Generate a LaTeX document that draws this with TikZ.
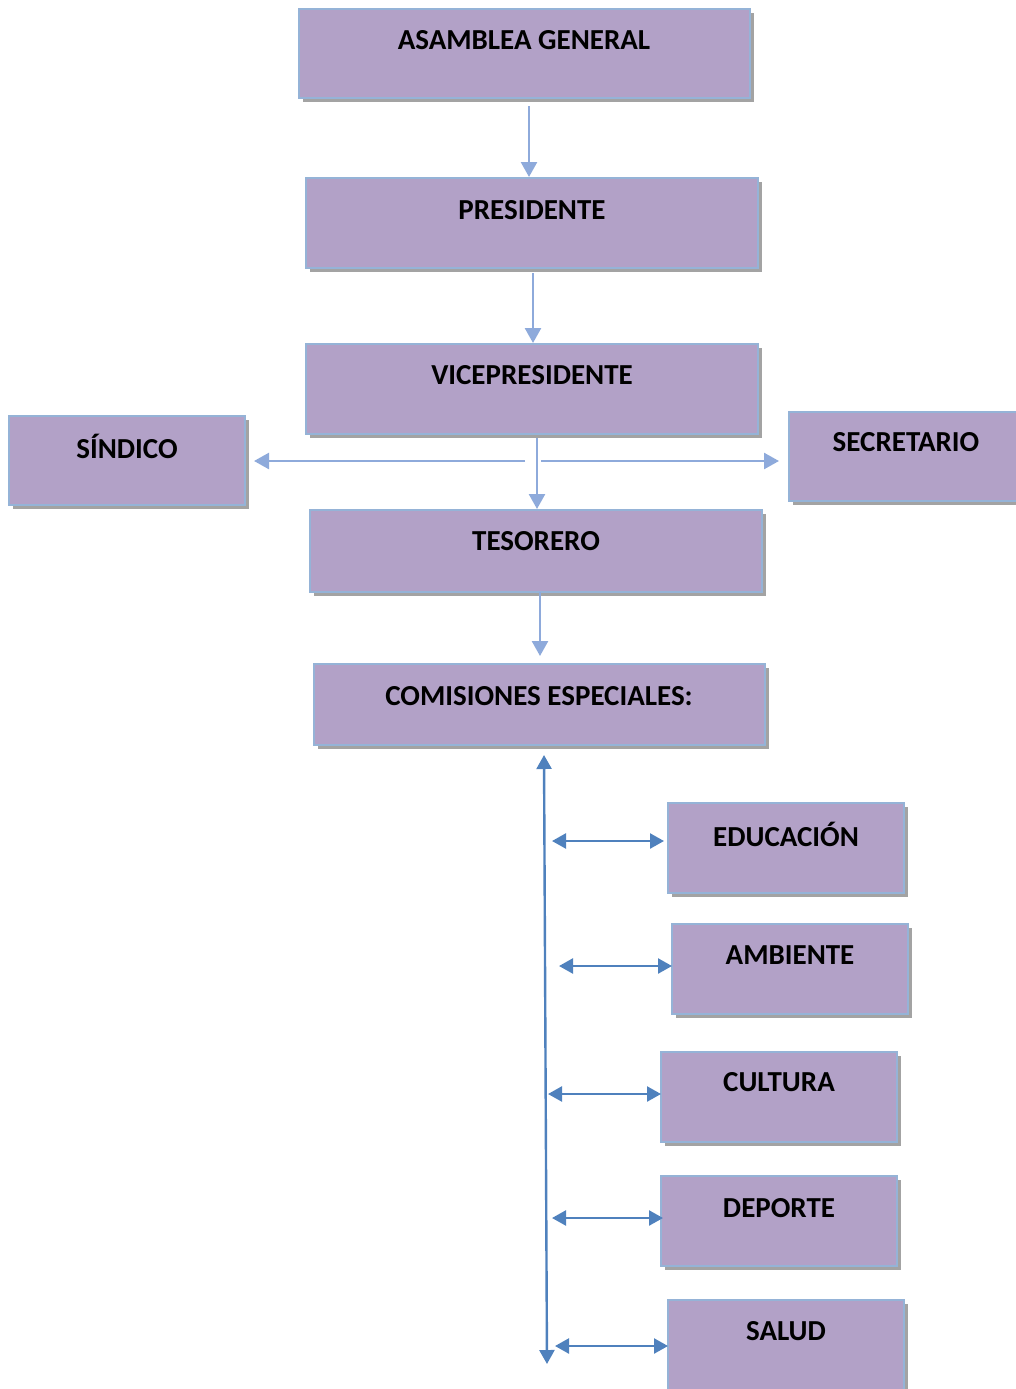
\documentclass[tikz,border=0pt]{standalone}
\usepackage{fontspec}
\setmainfont{Carlito}
\usetikzlibrary{arrows.meta}
\definecolor{boxfill}{HTML}{B2A1C7}
\definecolor{boxline}{HTML}{95B3D7}
\definecolor{shadowc}{HTML}{8C8C8C}
\definecolor{lightarr}{HTML}{8EAADB}
\definecolor{darkarr}{HTML}{4F81BD}
\tikzset{
  orgbox/.style={fill=boxfill, draw=boxline, line width=2pt, inner sep=0pt, anchor=north west},
  lbl/.style={font=\bfseries\fontsize{29}{32}\selectfont, text=black, inner sep=0pt},
  larr/.style={draw=lightarr, line width=2.5pt, -{Triangle[length=15pt,width=16pt]}},
  darr/.style={draw=darkarr, line width=2.4pt, {Triangle[length=14pt,width=15pt]}-{Triangle[length=14pt,width=15pt]}},
}
\newcommand{\orgb}[6]{% name, x1,y1,x2,y2, unused, unused
  \fill[shadowc!80] (#2+4,#3+4) rectangle (#4+4,#5+4);
  \path[orgbox] (#2,#3) rectangle (#4,#5);
  \coordinate (#1-nw) at (#2,#3);
  \coordinate (#1-se) at (#4,#5);
}
\begin{document}
\begin{tikzpicture}[x=1pt,y=-1pt]
\useasboundingbox (0,0) rectangle (1016,1389);
\clip (0,0) rectangle (1016,1389);
% boxes
\orgb{asm}{299}{9}{750}{98}{}{}
\node[lbl] (asmt) at (524,40) {ASAMBLEA GENERAL};
\orgb{pre}{306}{178}{758}{268}{}{}
\node[lbl] (pret) at (532,210) {PRESIDENTE};
\orgb{vic}{306}{344}{758}{434}{}{}
\node[lbl] (vict) at (532,375) {VICEPRESIDENTE};
\orgb{sin}{9}{416}{245}{505}{}{}
\node[lbl] (sint) at (127,446) {SÍNDICO};
\orgb{sec}{789}{412}{1030}{501}{}{}
\node[lbl] (sect) at (906,442) {SECRETARIO};
\orgb{tes}{310}{510}{762}{592}{}{}
\node[lbl] (test) at (536,541) {TESORERO};
\orgb{com}{314}{664}{765}{745}{}{}
\node[lbl] (comt) at (539,696) {COMISIONES ESPECIALES:};
\orgb{edu}{668}{803}{904}{893}{}{}
\node[lbl] (edut) at (786,834) {EDUCACIÓN};
\orgb{amb}{672}{924}{908}{1014}{}{}
\node[lbl] (ambt) at (790,955) {AMBIENTE};
\orgb{cul}{661}{1052}{897}{1142}{}{}
\node[lbl] (cult) at (779,1082) {CULTURA};
\orgb{dep}{661}{1176}{897}{1266}{}{}
\node[lbl] (dept) at (779,1208) {DEPORTE};
\orgb{sal}{668}{1300}{904}{1400}{}{}
\node[lbl] (salt) at (786,1331) {SALUD};
% light arrows
\coordinate (a1s) at (529,106); \coordinate (a1e) at (529,177);
\draw[larr] (a1s) -- (a1e);
\coordinate (a2s) at (533,273); \coordinate (a2e) at (533,343);
\draw[larr] (a2s) -- (a2e);
\coordinate (a3s) at (537,438); \coordinate (a3e) at (537,509);
\draw[larr] (a3s) -- (a3e);
\coordinate (hl) at (525,461); \coordinate (hlE) at (254,461);
\draw[larr] (hl) -- (hlE);
\coordinate (hr) at (541,461); \coordinate (hrE) at (779,461);
\draw[larr] (hr) -- (hrE);
\coordinate (a4s) at (540,592); \coordinate (a4e) at (540,656);
\draw[larr] (a4s) -- (a4e);
% dark arrows
\coordinate (vtop) at (544,755); \coordinate (vbot) at (547,1364);
\draw[darr] (vtop) -- (vbot);
\coordinate (e1) at (552,841); \coordinate (e2) at (664,841);
\draw[darr] (e1) -- (e2);
\coordinate (m1) at (559,966); \coordinate (m2) at (672,966);
\draw[darr] (m1) -- (m2);
\coordinate (c1) at (548,1094); \coordinate (c2) at (661,1094);
\draw[darr] (c1) -- (c2);
\coordinate (d1) at (552,1218); \coordinate (d2) at (663,1218);
\draw[darr] (d1) -- (d2);
\coordinate (s1) at (555,1346); \coordinate (s2) at (668,1346);
\draw[darr] (s1) -- (s2);
\end{tikzpicture}
\end{document}
